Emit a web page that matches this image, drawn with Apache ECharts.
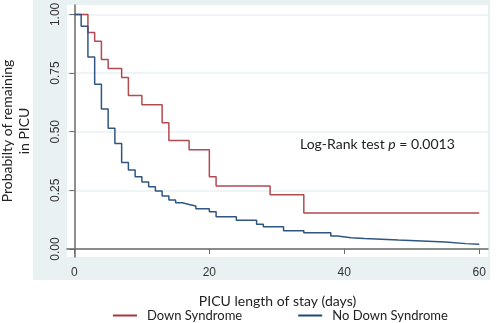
<!DOCTYPE html>
<html>
<head>
<meta charset="utf-8">
<script src="https://cdn.jsdelivr.net/npm/echarts@6/dist/echarts.min.js"></script>
<style>
  html, body { margin: 0; padding: 0; background: #fff; }
  #chart { width: 500px; height: 323px; }
</style>
</head>
<body>
<div id="chart"></div>
<script>
// Kaplan-Meier: proportion remaining in PICU
const dsDays = [0, 2, 3, 4, 5, 7, 8, 10, 13, 14, 17, 20, 21, 29, 34, 60];
const dsProb = [1, 0.923, 0.885, 0.808, 0.769, 0.731, 0.654, 0.615, 0.538, 0.462, 0.423, 0.308, 0.269, 0.231, 0.154, 0.154];

const noDsDays = [0, 1, 2, 3, 4, 5, 6, 7, 8, 9, 10, 11, 12, 13, 14, 15, 16, 17, 18, 20, 21, 24, 27, 28, 31, 34, 38, 39, 41, 43, 48, 55, 58, 60];
const noDsProb = [1, 0.949, 0.818, 0.702, 0.597, 0.515, 0.45, 0.369, 0.337, 0.308, 0.286, 0.265, 0.247, 0.226, 0.209, 0.197, 0.19, 0.183, 0.172, 0.159, 0.138, 0.123, 0.106, 0.095, 0.078, 0.069, 0.055, 0.048, 0.045, 0.038, 0.03, 0.023, 0.02, 0.02];

const xTicks = [0, 20, 40, 60];
const yTicks = [0, 0.25, 0.5, 0.75, 1];

const seriesNames = ["Down Syndrome", "No Down Syndrome"];

const textFont = "Lato";
const tickFont = "Liberation Sans";

const chart = echarts.init(document.getElementById("chart"));

const option = {
  animation: false,
  backgroundColor: "#fff",
  graphic: [
    {
      // 外框背景
      type: "rect",
      z: -10,
      shape: { x: 33, y: 0, width: 457, height: 280 },
      style: { fill: "#eaf1f3" }
    },
    {
      type: "text",
      left: 300,
      top: 137,
      z: 10,
      style: {
        text: "{n|Log-Rank test }{i|p}{n| = 0.0013}",
        rich: {
          n: { fontFamily: textFont, fontSize: 14, fill: "#222" },
          i: { fontFamily: textFont, fontSize: 14, fontStyle: "italic", fill: "#222" }
        }
      }
    }
  ],
  grid: {
    left: 67,
    right: 12,
    top: 5,
    bottom: 66,
    outerBoundsMode: "none",
    containLabel: false,
    show: true,
    backgroundColor: "#fff",
    borderWidth: 0
  },
  legend: {
    left: 113,
    top: 309,
    padding: 0,
    itemGap: 56,
    itemWidth: 24,
    itemHeight: 2,
    icon: "rect",
    textStyle: { fontFamily: textFont, fontSize: 13, color: "#222", padding: [0, 0, 0, 5] },
    data: seriesNames
  },
  xAxis: {
    type: "value",
    min: -1.1,
    max: 61.3,
    name: "PICU length of stay (days)",
    nameLocation: "middle",
    nameGap: 37,
    nameTextStyle: { fontFamily: textFont, fontSize: 14, color: "#222" },
    axisLine: { show: true, lineStyle: { color: "#6a6a6a", width: 1.5 } },
    axisTick: { show: true, length: 5, customValues: xTicks, lineStyle: { color: "#6a6a6a" } },
    axisLabel: { customValues: xTicks, margin: 10, fontFamily: tickFont, fontSize: 12, color: "#333" },
    splitLine: { show: false }
  },
  yAxis: {
    type: "value",
    min: -0.034,
    max: 1.04,
    name: "Probabilty of remaining\nin PICU",
    nameLocation: "middle",
    nameRotate: 90,
    nameGap: 34,
    nameTextStyle: { fontFamily: textFont, fontSize: 14, color: "#222", lineHeight: 17 },
    axisLine: { show: true, lineStyle: { color: "#6a6a6a", width: 1.5 } },
    axisTick: { show: true, length: 5, customValues: yTicks, lineStyle: { color: "#6a6a6a" } },
    axisLabel: {
      customValues: yTicks,
      rotate: 90,
      margin: 5,
      fontFamily: tickFont,
      fontSize: 12,
      color: "#333",
      formatter: v => v.toFixed(2)
    },
    splitLine: { show: true, lineStyle: { color: "#eaf1f3", width: 1.5 } }
  },
  series: [
    {
      name: seriesNames[0],
      type: "line",
      step: "end",
      symbol: "none",
      color: "#a8373f",
      lineStyle: { width: 1.5, color: "#b24a50" },
      data: dsDays.map((d, i) => [d, dsProb[i]]),
      z: 3
    },
    {
      name: seriesNames[1],
      type: "line",
      step: "end",
      symbol: "none",
      color: "#1e4a72",
      lineStyle: { width: 1.5, color: "#2f5680" },
      data: noDsDays.map((d, i) => [d, noDsProb[i]]),
      z: 4
    }
  ]
};

chart.setOption(option);
</script>
</body>
</html>
